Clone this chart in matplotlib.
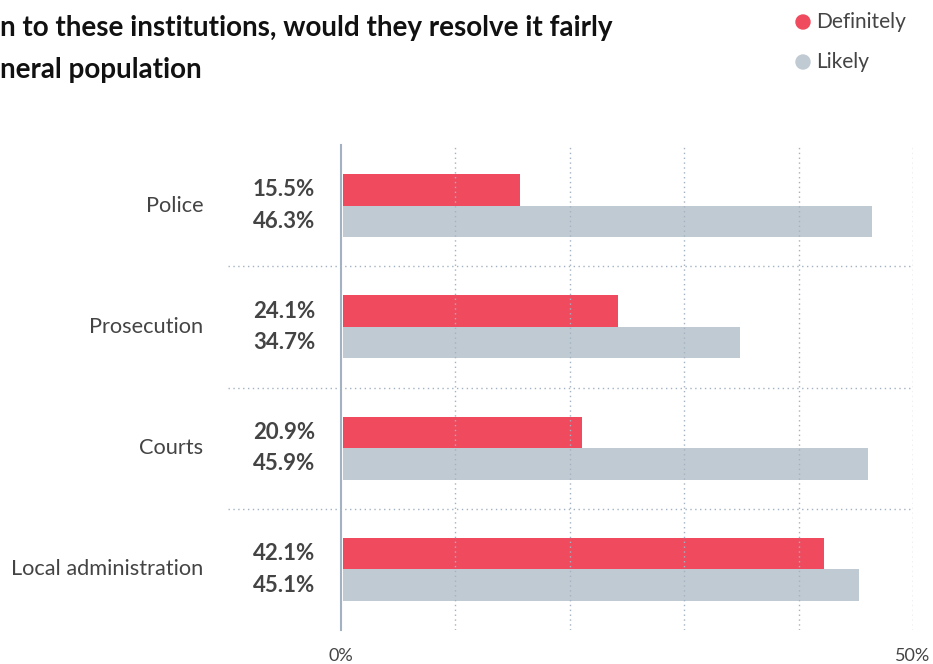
import matplotlib
matplotlib.use('Agg')
import matplotlib.pyplot as plt
import numpy as np

categories = ['Police', 'Prosecution', 'Courts', 'Local administration']
definitely = [15.5, 24.1, 20.9, 42.1]
likely = [46.3, 34.7, 45.9, 45.1]
x_ticks = [0, 10, 20, 30, 40, 50]
x_tick_labels = ['0%', '', '', '', '', '50%']

red = '#f04a5e'
grey = '#c0cad3'
line_col = '#a3b2c2'
text_col = '#444444'

plt.rcParams['font.family'] = ['Lato', 'DejaVu Sans']

fig = plt.figure(figsize=(9.33, 6.64), dpi=100)
ax = fig.add_axes([341 / 933, 1 - 630 / 664, 572 / 933, 485 / 664])

y = np.arange(len(categories))
h = 0.26
ax.barh(y - h / 2, definitely, height=h, color=red, left=0.15)
ax.barh(y + h / 2, likely, height=h, color=grey, left=0.15)

ax.set_xlim(0, 50)
ax.set_ylim(3.5, -0.5)

tr = ax.get_yaxis_transform()
for i, cat in enumerate(categories):
    ax.text(-0.241, i, cat, transform=tr, ha='right', va='center',
            fontsize=15.7, color=text_col)
    ax.text(-0.045, i - h / 2, '%.1f%%' % definitely[i], transform=tr,
            ha='right', va='center', fontsize=16, fontweight='bold', color=text_col)
    ax.text(-0.045, i + h / 2, '%.1f%%' % likely[i], transform=tr,
            ha='right', va='center', fontsize=16, fontweight='bold', color=text_col)

# dotted separators between categories, running into the label area
for yy in [0.5, 1.5, 2.5]:
    ax.plot([-0.198, 1.0], [yy, yy], transform=tr, clip_on=False,
            color=line_col, linestyle=(0, (1, 2.5)), linewidth=1)

for xv in x_ticks[1:]:
    ax.axvline(xv, color=line_col, linestyle=(0, (1, 2.5)), linewidth=1)

for s in ['top', 'right', 'bottom']:
    ax.spines[s].set_visible(False)
ax.spines['left'].set_color(line_col)
ax.spines['left'].set_linewidth(1.5)

ax.set_yticks([])
ax.set_xticks(x_ticks)
ax.set_xticklabels(x_tick_labels, fontsize=13, color=text_col)
ax.tick_params(axis='x', length=0, pad=13)

fig.text(0.0, 1 - 28 / 664, 'n to these institutions, would they resolve it fairly',
         fontsize=20, fontweight='bold', color='#111111', va='center', ha='left')
fig.text(0.0, 1 - 70 / 664, 'neral population',
         fontsize=20, fontweight='bold', color='#111111', va='center', ha='left')

# legend
for yl, col, lab in [(22, red, 'Definitely'), (62, grey, 'Likely')]:
    fig.patches.append(matplotlib.patches.Ellipse((803 / 933, 1 - yl / 664), 14 / 933, 14 / 664,
                       transform=fig.transFigure, color=col))
    fig.text(816 / 933, 1 - yl / 664, lab, fontsize=15, color=text_col, va='center')

plt.savefig('out.png', dpi=100)
